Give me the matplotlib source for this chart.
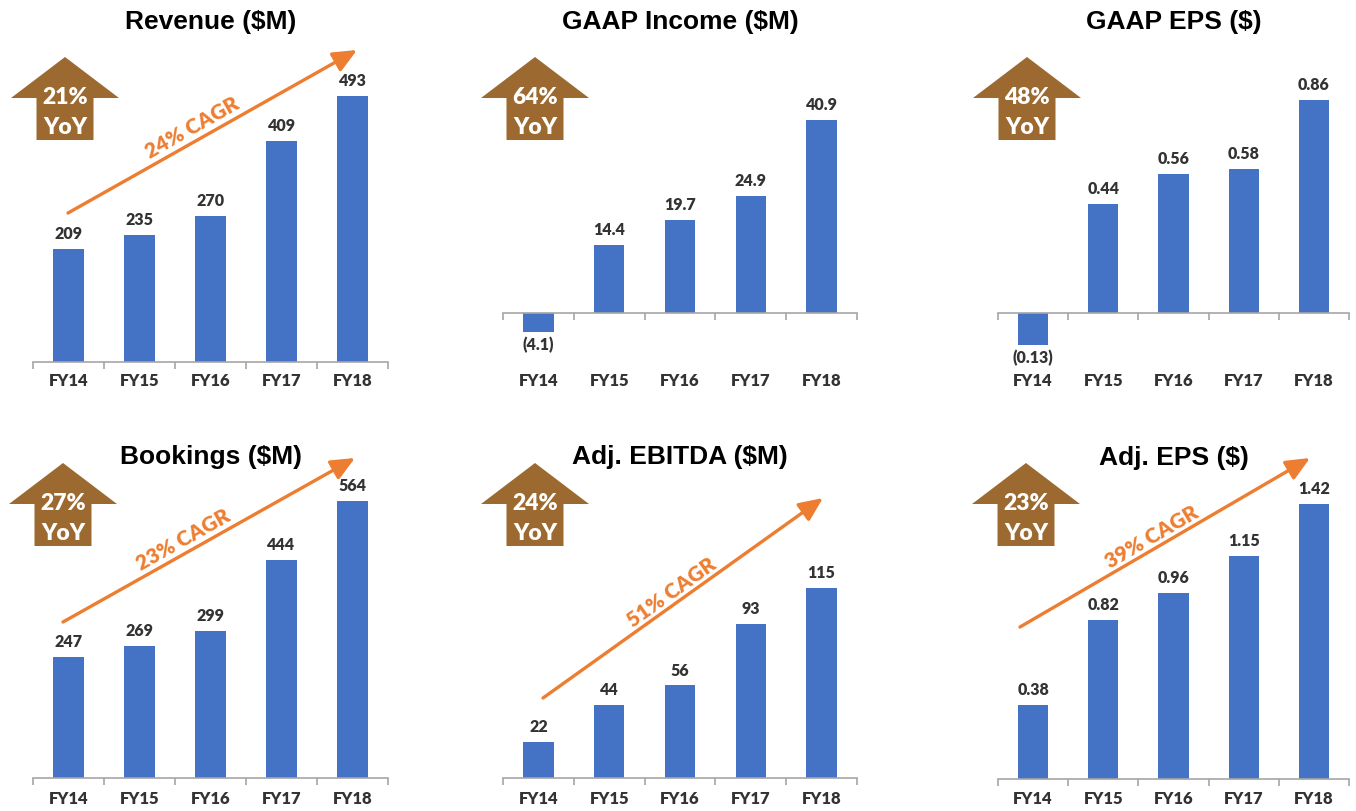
import numpy as np
import matplotlib.pyplot as plt
from matplotlib.patches import Polygon

plt.rcParams['font.family'] = ['Lato', 'DejaVu Sans']

W, H = 1356, 811

# ---- data ----
years = ['FY14', 'FY15', 'FY16', 'FY17', 'FY18']

revenue = [209, 235, 270, 409, 493]
gaap_income = [-4.1, 14.4, 19.7, 24.9, 40.9]
gaap_eps = [-0.13, 0.44, 0.56, 0.58, 0.86]
bookings = [247, 269, 299, 444, 564]
adj_ebitda = [22, 44, 56, 93, 115]
adj_eps = [0.38, 0.82, 0.96, 1.15, 1.42]

series = [revenue, gaap_income, gaap_eps, bookings, adj_ebitda, adj_eps]
titles = ['Revenue ($M)', 'GAAP Income ($M)', 'GAAP EPS ($)',
          'Bookings ($M)', 'Adj. EBITDA ($M)', 'Adj. EPS ($)']
decimals = [0, 1, 2, 0, 0, 2]
yoy = ['21%', '64%', '48%', '27%', '24%', '23%']
cagr = ['24% CAGR', None, None, '23% CAGR', '51% CAGR', '39% CAGR']

# ---- layout (pixels) ----
col_l = [33, 503, 998]
col_r = [388, 857, 1349]
baseline = [362, 313, 313, 778, 778, 779]
maxbar_top = [96, 120, 100, 501, 588, 504]   # pixel y of the tallest bar top
title_y = [22, 22, 22, 457, 457, 458]
label_y = [383, 383, 383, 801, 801, 801]
yoy_tip = [(65, 57), (535, 57), (1027, 57), (63, 463), (535, 463), (1026, 463)]
cagr_line = [((68, 213), (357, 50)), None, None,
             ((63, 622), (355, 458)), ((543, 698), (823, 498)),
             ((1020, 627), (1310, 458))]
cagr_text = [(192, 128), None, None, (183, 540), (672, 592), (1152, 537)]

BAR = '#4472C4'
BROWN = '#9C6A30'
ORANGE = '#ED7D31'
TXT = '#333333'
AXC = '#A6A6A6'

fig = plt.figure(figsize=(W / 100, H / 100), dpi=100)
fig.patch.set_facecolor('white')

x = np.arange(len(years))

for k in range(6):
    col = k % 3
    vals = series[k]
    l, r, b0 = col_l[col], col_r[col], baseline[k]
    scale = (b0 - maxbar_top[k]) / max(vals)
    T = title_y[k] + 25
    B = b0 + 45
    ax = fig.add_axes([l / W, 1 - B / H, (r - l) / W, (B - T) / H])
    ax.set_facecolor('none')
    ax.set_xlim(-0.5, len(years) - 0.5)
    ax.set_ylim(-(B - b0) / scale, (b0 - T) / scale)
    ax.bar(x, vals, width=0.43, color=BAR, zorder=2)

    for s in ['top', 'left', 'right']:
        ax.spines[s].set_visible(False)
    ax.spines['bottom'].set_position(('data', 0))
    ax.spines['bottom'].set_color(AXC)
    ax.spines['bottom'].set_linewidth(1.2)
    ax.set_yticks([])
    ax.set_xticks(x)
    ax.set_xticks(np.arange(-0.5, len(years), 1), minor=True)
    pad = (label_y[k] - b0 - 10) * 0.72
    ax.tick_params(axis='x', which='major', length=0, pad=pad,
                   labelsize=12, labelcolor=TXT)
    ax.tick_params(axis='x', which='minor', length=5, width=1.2,
                   color=AXC, direction='out')
    ax.set_xticklabels(years, fontweight='heavy')

    for i, v in enumerate(vals):
        s = f'{abs(v):.{decimals[k]}f}'
        if v < 0:
            ax.annotate(f'({s})', (i, v), xytext=(0, -3), textcoords='offset points',
                        ha='center', va='top', fontsize=11.5, fontweight='heavy', color=TXT)
        else:
            ax.annotate(s, (i, v), xytext=(0, 5), textcoords='offset points',
                        ha='center', va='bottom', fontsize=11.5, fontweight='heavy', color=TXT)

# overlay for titles and callouts, in pixel coordinates
ov = fig.add_axes([0, 0, 1, 1])
ov.set_xlim(0, W)
ov.set_ylim(H, 0)
ov.axis('off')

for k in range(6):
    col = k % 3
    cx = (col_l[col] + col_r[col]) / 2
    ov.text(cx, title_y[k], titles[k], ha='center', va='center',
            fontsize=19, fontweight='bold', family='Liberation Sans', color='black')

    tx, ty = yoy_tip[k]
    pts = [(tx, ty), (tx + 54, ty + 41), (tx + 28.5, ty + 41), (tx + 28.5, ty + 83),
           (tx - 28.5, ty + 83), (tx - 28.5, ty + 41), (tx - 54, ty + 41)]
    ov.add_patch(Polygon(pts, closed=True, facecolor=BROWN, edgecolor='none'))
    ov.text(tx, ty + 40, yoy[k], ha='center', va='center', color='white',
            fontsize=16.5, fontweight='heavy')
    ov.text(tx, ty + 70, 'YoY', ha='center', va='center', color='white',
            fontsize=16.5, fontweight='heavy')

    if cagr[k] is not None:
        (x0, y0), (x1, y1) = cagr_line[k]
        ov.annotate('', xy=(x1, y1), xytext=(x0, y0),
                    arrowprops=dict(arrowstyle='-|>,head_length=0.9,head_width=0.4',
                                    color=ORANGE, lw=2.4, mutation_scale=16,
                                    shrinkA=0, shrinkB=0))
        ang = np.degrees(np.arctan2(y0 - y1, x1 - x0))
        ov.text(cagr_text[k][0], cagr_text[k][1], cagr[k], rotation=ang,
                rotation_mode='anchor', ha='center', va='center',
                color=ORANGE, fontsize=15, fontweight='heavy')

fig.savefig('out.png', dpi=100)
